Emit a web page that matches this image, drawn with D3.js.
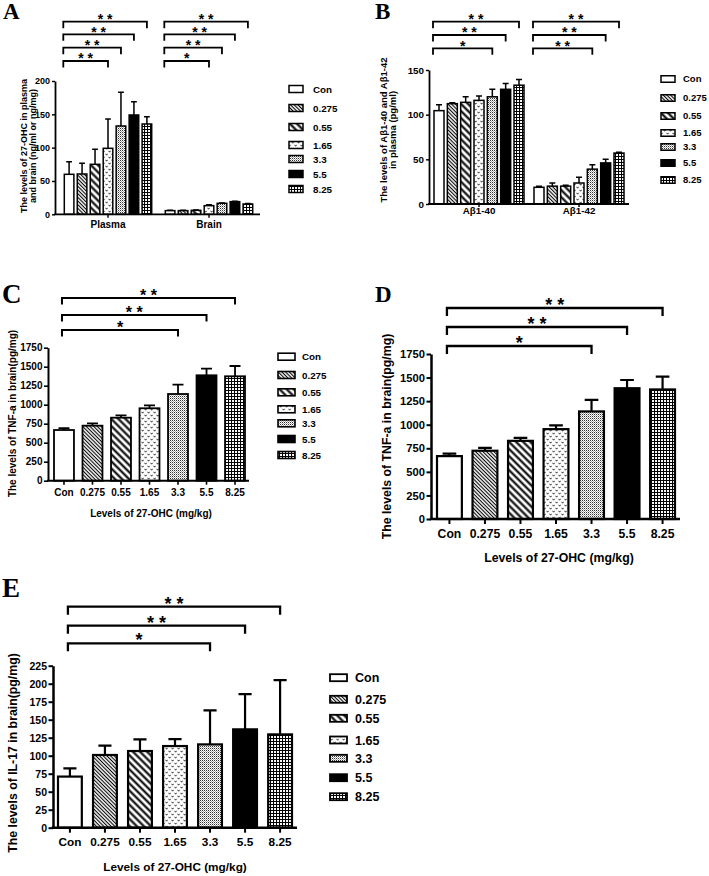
<!DOCTYPE html>
<html><head><meta charset="utf-8">
<script src="https://cdn.jsdelivr.net/npm/d3@7"></script>
<style>
body{margin:0;background:#fff}
svg{display:block}
text{font-family:"Liberation Sans",Arial,Helvetica,sans-serif;font-weight:bold;fill:#000}
text.panel{font-family:"Liberation Serif","Times New Roman",serif}
text.star{white-space:pre}
</style>
</head><body>
<svg id="chart" width="709" height="876"></svg>
<script>
// ---------------- DATA ----------------
const doses = ["Con", "0.275", "0.55", "1.65", "3.3", "5.5", "8.25"];

// Panel A: 27-OHC in plasma (ng/ml) and brain (ng/mg)
const groupsA = ["Plasma", "Brain"];
const ohcPlasma = [60, 60.5, 75, 99, 132.5, 149, 135.5];
const ohcPlasmaSd = [19, 16, 22.5, 44, 50.5, 20, 11];
const ohcBrain = [5.5, 5.5, 6, 13, 16.5, 19, 15.5];
const ohcBrainSd = [0.5, 0.5, 0.6, 1.5, 0.6, 0.6, 0.6];
const ticksA = [0, 50, 100, 150, 200];
const sigPlasma = [["1.65", "* *"], ["3.3", "* *"], ["5.5", "* *"], ["8.25", "* *"]];
const sigBrain = [["1.65", "*"], ["3.3", "* *"], ["5.5", "* *"], ["8.25", "* *"]];

// Panel B: Aβ1-40 and Aβ1-42 in plasma (pg/ml)
const groupsB = ["Aβ1-40", "Aβ1-42"];
const ab40 = [104.5, 112.3, 113.8, 116, 120, 128.4, 133];
const ab40Sd = [6.5, 1.1, 6.2, 5, 8.4, 6.6, 6.5];
const ab42 = [18.7, 20, 20, 23.5, 39, 46, 57];
const ab42Sd = [1.3, 3.5, 1, 6.5, 5, 4, 1];
const ticksB = [0, 50, 100, 150];
const sigAb40 = [["3.3", "*"], ["5.5", "* *"], ["8.25", "* *"]];
const sigAb42 = [["3.3", "* *"], ["5.5", "* *"], ["8.25", "* *"]];

// Panels C and D: TNF-a in brain (pg/mg)
const tnf = [667, 724, 829, 953, 1141, 1387, 1374];
const tnfSd = [26, 31, 31, 39, 122, 87, 135];
const ticksTnf = [0, 250, 500, 750, 1000, 1250, 1500, 1750];
const sigTnf = [["3.3", "*"], ["5.5", "* *"], ["8.25", "* *"]];

// Panel E: IL-17 in brain (pg/mg)
const il17 = [71, 101, 106.5, 113.4, 115.7, 136.6, 129.6];
const il17Sd = [11.5, 13, 16.2, 9.6, 47.3, 49, 75.4];
const ticksIl = [0, 25, 50, 75, 100, 125, 150, 175, 200, 225];
const sigIl = [["3.3", "*"], ["5.5", "* *"], ["8.25", "* *"]];

const xTitle = "Levels of 27-OHC (mg/kg)";

// ---------------- PATTERNS ----------------
const svg = d3.select("#chart");
const defs = svg.append("defs");
function pattern(id, w, h, rot) {
  const p = defs.append("pattern").attr("id", id).attr("patternUnits", "userSpaceOnUse")
    .attr("width", w).attr("height", h);
  if (rot) p.attr("patternTransform", `rotate(${rot})`);
  p.append("rect").attr("width", w).attr("height", h).attr("fill", "#fff");
  return p;
}
pattern("p0275", 2.6, 2.6, -45).append("line").attr("x1", 1.3).attr("x2", 1.3).attr("y1", 0).attr("y2", 2.6)
  .attr("stroke", "#000").attr("stroke-width", 1.1);
pattern("p055", 5, 5, -45).append("line").attr("x1", 2.5).attr("x2", 2.5).attr("y1", 0).attr("y2", 5)
  .attr("stroke", "#000").attr("stroke-width", 2.1);
const p165 = pattern("p165", 6, 6, 0);
p165.append("path").attr("d", "M0.6,0.8L1.6,2.2L2.6,0.8M3.6,3.8L4.6,5.2L5.6,3.8").attr("fill", "none")
  .attr("stroke", "#000").attr("stroke-width", 0.8);
const p33 = pattern("p33", 2, 2, 0);
p33.append("rect").attr("width", 1).attr("height", 1).attr("fill", "#333");
p33.append("rect").attr("x", 1).attr("y", 1).attr("width", 1).attr("height", 1).attr("fill", "#aaa");
pattern("p825", 3, 3, 0).append("path").attr("d", "M0,0.5H3M0.5,0V3").attr("stroke", "#000").attr("stroke-width", 1.1);

const fills = {"Con": "#fff", "0.275": "url(#p0275)", "0.55": "url(#p055)", "1.65": "url(#p165)",
  "3.3": "url(#p33)", "5.5": "#000", "8.25": "url(#p825)"};

// ---------------- DRAWING ----------------
function panelLetter(t, x, y, fs) {
  svg.append("text").attr("class", "panel").attr("x", x).attr("y", y).style("font-size", fs + "px").text(t);
}

function drawPanel(c) {
  const g = svg.append("g");
  const y = d3.scaleLinear().domain([0, c.ticks[c.ticks.length - 1]]).range([c.y0, c.yTop]);

  let outer = null;
  let groupDefs;
  if (c.groups) {
    outer = d3.scaleBand().domain(c.groups.map(d => d.name)).range(c.outerRange);
    groupDefs = c.groups.map(gr => {
      const cx = outer(gr.name) + outer.bandwidth() / 2;
      return Object.assign({}, gr, {range: [cx - c.halfSpan, cx + c.halfSpan]});
    });
  } else {
    groupDefs = [{values: c.values, sds: c.sds, sig: c.sig, range: c.barRange}];
  }

  groupDefs.forEach(gr => {
    const xb = d3.scaleBand().domain(doses).range(gr.range).paddingInner(c.pad);
    const bw = xb.bandwidth();
    const data = doses.map((d, i) => ({d, v: gr.values[i], e: gr.sds[i]}));
    const capW = bw * c.capFrac;
    g.selectAll(null).data(data).enter().append("path")
      .attr("d", d => {
        const cx = xb(d.d) + bw / 2;
        return `M${cx},${y(d.v)}V${y(d.v + d.e)}M${cx - capW / 2},${y(d.v + d.e)}H${cx + capW / 2}`;
      })
      .attr("stroke", "#000").attr("stroke-width", c.errW).attr("fill", "none");
    g.selectAll(null).data(data).enter().append("rect")
      .attr("x", d => xb(d.d)).attr("width", bw)
      .attr("y", d => y(d.v)).attr("height", d => y(0) - y(d.v))
      .attr("fill", d => fills[d.d]).attr("stroke", "#000").attr("stroke-width", c.barW);
    gr.sig.forEach((s, i) => {
      const ly = c.brY[i];
      const x1 = xb("Con") + bw * c.brLeftFrac + c.brLeftOff;
      const x2 = xb(s[0]) + bw / 2;
      g.append("path").attr("d", `M${x1},${ly + c.brTick}V${ly}H${x2}V${ly + c.brTick}`)
        .attr("fill", "none").attr("stroke", "#000").attr("stroke-width", c.brW);
      g.append("text").attr("class", "star").attr("x", (x1 + x2) / 2).attr("y", ly + 0.17 * c.starFs)
        .attr("text-anchor", "middle").style("font-size", c.starFs + "px").text(s[1]);
    });
    if (!outer) c._xb = xb;
  });

  const ya = g.append("g").attr("transform", `translate(${c.ax0},0)`)
    .call(d3.axisLeft(y).tickValues(c.ticks).tickFormat(d3.format("d"))
      .tickSize(c.yTickLen).tickSizeOuter(0).tickPadding(c.yTickPad));
  ya.select(".domain").attr("stroke-width", c.axisW).attr("stroke", "#000");
  ya.selectAll(".tick line").attr("stroke-width", c.axisW * 0.8).attr("stroke", "#000");
  ya.selectAll("text").style("font-size", c.yFs + "px");

  g.append("line").attr("x1", c.ax0 - c.axisW / 2).attr("x2", c.ax1).attr("y1", c.y0).attr("y2", c.y0)
    .attr("stroke", "#000").attr("stroke-width", c.axisW);
  const xs = outer || c._xb;
  const xa = g.append("g").attr("transform", `translate(0,${c.y0})`)
    .call(d3.axisBottom(xs).tickSize(c.xTickLen).tickSizeOuter(0).tickPadding(c.xTickPad));
  xa.select(".domain").remove();
  xa.selectAll(".tick line").attr("stroke-width", c.axisW * 0.8).attr("stroke", "#000");
  xa.selectAll("text").style("font-size", c.xFs + "px");

  c.yTitle.forEach((line, i) => {
    const lx = c.yTitleX[i] + 0.36 * c.yTitleFs;
    g.append("text").attr("transform", `translate(${lx},${c.yTitleY}) rotate(-90)`)
      .attr("text-anchor", "middle").style("font-size", c.yTitleFs + "px").text(line);
  });
  if (c.xTitlePos) {
    g.append("text").attr("x", c.xTitlePos[0]).attr("y", c.xTitlePos[1] + 0.36 * c.xTitleFs)
      .attr("text-anchor", "middle").style("font-size", c.xTitleFs + "px").text(xTitle);
  }
  if (c.legend) {
    const L = c.legend;
    doses.forEach((d, i) => {
      const ry = L.rows[i];
      g.append("rect").attr("x", L.sx).attr("y", ry - L.sh / 2).attr("width", L.sw).attr("height", L.sh)
        .attr("fill", fills[d]).attr("stroke", "#000").attr("stroke-width", L.bw);
      g.append("text").attr("x", L.lx).attr("y", ry + 0.36 * L.fs).style("font-size", L.fs + "px").text(d);
    });
  }
}

// Panel A
panelLetter("A", 3, 19, 23);
drawPanel({
  groups: [{name: groupsA[0], values: ohcPlasma, sds: ohcPlasmaSd, sig: sigPlasma},
           {name: groupsA[1], values: ohcBrain, sds: ohcBrainSd, sig: sigBrain}],
  outerRange: [57.5, 259.5], halfSpan: 43.7, pad: 0.26,
  ticks: ticksA, y0: 214.3, yTop: 81, ax0: 55, ax1: 260,
  barW: 1.5, errW: 1.5, capFrac: 0.6, axisW: 1.8,
  yTickLen: 3, yTickPad: 2, yFs: 9, xTickLen: 3.5, xTickPad: 3, xFs: 10,
  brY: [61, 47.7, 34.3, 21.7], brTick: 6.5, brW: 1.8, brLeftFrac: 0, brLeftOff: -1, starFs: 14,
  yTitle: ["The levels of 27-OHC in plasma", "and brain (ng/ml or ng/mg)"], yTitleX: [24, 32.5], yTitleY: 146, yTitleFs: 9,
  legend: {sx: 289, sw: 14, sh: 7, bw: 1.5, lx: 313, fs: 9.8, rows: [89, 108, 127, 145, 159, 174, 189]}
});

// Panel B
panelLetter("B", 375, 19, 23);
drawPanel({
  groups: [{name: groupsB[0], values: ab40, sds: ab40Sd, sig: sigAb40},
           {name: groupsB[1], values: ab42, sds: ab42Sd, sig: sigAb42}],
  outerRange: [429, 629], halfSpan: 45, pad: 0.25,
  ticks: ticksB, y0: 204, yTop: 70, ax0: 429, ax1: 629,
  barW: 1.5, errW: 1.5, capFrac: 0.6, axisW: 1.8,
  yTickLen: 3, yTickPad: 2, yFs: 9.8, xTickLen: 3, xTickPad: 0.5, xFs: 9.8,
  brY: [48.3, 35, 21.7], brTick: 6.5, brW: 1.8, brLeftFrac: 0, brLeftOff: -1, starFs: 14,
  yTitle: ["The levels of Aβ1-40 and Aβ1-42", "in plasma (pg/ml)"], yTitleX: [384, 393], yTitleY: 130, yTitleFs: 9.5,
  legend: {sx: 661, sw: 14, sh: 6.5, bw: 1.5, lx: 683, fs: 9.5, rows: [79, 98, 116, 133, 147, 163, 180]}
});

// Panel C
panelLetter("C", 2, 303, 27);
drawPanel({
  values: tnf, sds: tnfSd, sig: sigTnf, barRange: [54, 245], pad: 0.3,
  ticks: ticksTnf, y0: 480.7, yTop: 347.7, ax0: 48, ax1: 249,
  barW: 1.8, errW: 1.8, capFrac: 0.55, axisW: 2,
  yTickLen: 4, yTickPad: 1.5, yFs: 10, xTickLen: 4, xTickPad: 4, xFs: 10,
  brY: [330, 315, 298], brTick: 6.5, brW: 2, brLeftFrac: 0.5, brLeftOff: -2, starFs: 16,
  yTitle: ["The levels of TNF-a in brain(pg/mg)"], yTitleX: [12], yTitleY: 413.5, yTitleFs: 10,
  xTitlePos: [151, 513], xTitleFs: 10,
  legend: {sx: 278, sw: 17, sh: 7, bw: 1.6, lx: 302, fs: 9.8, rows: [356.7, 375, 392.3, 409.3, 423.3, 439, 455]}
});

// Panel D
panelLetter("D", 375, 302, 23);
drawPanel({
  values: tnf, sds: tnfSd, sig: sigTnf, barRange: [437, 675], pad: 0.3,
  ticks: ticksTnf, y0: 519, yTop: 354, ax0: 431, ax1: 680,
  barW: 2.2, errW: 2.2, capFrac: 0.55, axisW: 2.5,
  yTickLen: 4.5, yTickPad: 1.5, yFs: 11.2, xTickLen: 5, xTickPad: 5, xFs: 12.2,
  brY: [346, 327, 308], brTick: 8, brW: 2.3, brLeftFrac: 0.5, brLeftOff: -2.5, starFs: 18,
  yTitle: ["The levels of TNF-a in brain(pg/mg)"], yTitleX: [387], yTitleY: 436.5, yTitleFs: 12.3,
  xTitlePos: [559, 558], xTitleFs: 12.3
});

// Panel E
panelLetter("E", 2, 597, 27);
drawPanel({
  values: il17, sds: il17Sd, sig: sigIl, barRange: [58, 292], pad: 0.32,
  ticks: ticksIl, y0: 827.7, yTop: 665.7, ax0: 53, ax1: 297,
  barW: 2.2, errW: 2.2, capFrac: 0.55, axisW: 2.5,
  yTickLen: 4.5, yTickPad: 1.5, yFs: 10.5, xTickLen: 5, xTickPad: 4.5, xFs: 11.8,
  brY: [643.3, 625.7, 606.7], brTick: 8, brW: 2.3, brLeftFrac: 0.5, brLeftOff: -2, starFs: 18,
  yTitle: ["The levels of IL-17 in brain(pg/mg)"], yTitleX: [13], yTitleY: 753, yTitleFs: 12.3,
  xTitlePos: [175, 866.7], xTitleFs: 11.8,
  legend: {sx: 330, sw: 17, sh: 7, bw: 1.8, lx: 355, fs: 12.5, rows: [677.7, 699.3, 718.3, 740, 758.3, 777.7, 796.7]}
});
</script>
</body></html>
